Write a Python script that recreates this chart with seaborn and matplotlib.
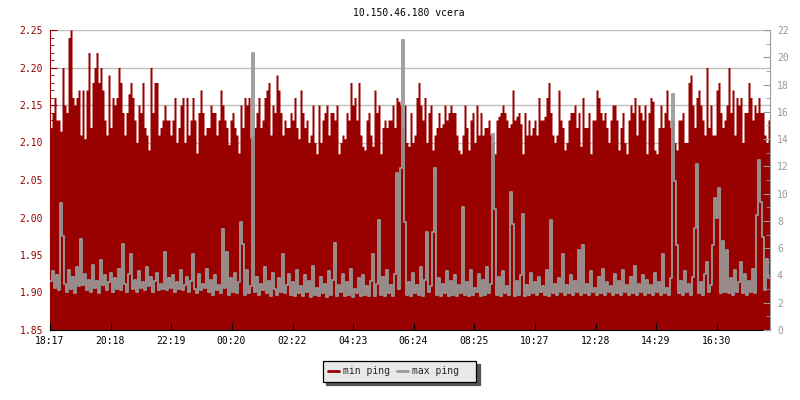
import numpy as np
import matplotlib
matplotlib.use("Agg")
import matplotlib.pyplot as plt
from matplotlib.lines import Line2D
import seaborn as sns

# one sample every 4 minutes, 18:17 -> 18:17 next day
minutes_per_sample = 4
start_time = "18:17"
time_labels = ["18:17", "20:18", "22:19", "00:20", "02:22", "04:23",
               "06:24", "08:25", "10:27", "12:28", "14:29", "16:30"]

# min ping (left axis)
min_ping = [
    2.12, 2.14, 2.16, 2.13, 2.13, 2.115, 2.20, 2.15, 2.14, 2.24,
    2.25, 2.16, 2.15, 2.16, 2.17, 2.11, 2.17, 2.105, 2.17, 2.22,
    2.12, 2.18, 2.20, 2.22, 2.18, 2.20, 2.17, 2.13, 2.11, 2.19,
    2.12, 2.16, 2.15, 2.16, 2.20, 2.18, 2.14, 2.11, 2.14, 2.165,
    2.18, 2.16, 2.13, 2.10, 2.15, 2.14, 2.18, 2.12, 2.11, 2.09,
    2.20, 2.14, 2.18, 2.18, 2.11, 2.12, 2.13, 2.15, 2.13, 2.13,
    2.11, 2.13, 2.16, 2.10, 2.12, 2.15, 2.16, 2.10, 2.16, 2.11,
    2.13, 2.16, 2.13, 2.086, 2.14, 2.17, 2.14, 2.11, 2.12, 2.12,
    2.15, 2.14, 2.14, 2.11, 2.13, 2.17, 2.15, 2.13, 2.12, 2.097,
    2.13, 2.14, 2.12, 2.11, 2.086, 2.15, 2.12, 2.16, 2.15, 2.16,
    2.106, 2.11, 2.12, 2.14, 2.16, 2.12, 2.13, 2.16, 2.17, 2.18,
    2.11, 2.15, 2.14, 2.19, 2.17, 2.14, 2.11, 2.13, 2.12, 2.12,
    2.14, 2.13, 2.16, 2.12, 2.105, 2.17, 2.14, 2.12, 2.13, 2.10,
    2.11, 2.15, 2.10, 2.085, 2.15, 2.10, 2.13, 2.14, 2.15, 2.11,
    2.14, 2.14, 2.13, 2.15, 2.085, 2.10, 2.11, 2.105, 2.14, 2.13,
    2.18, 2.15, 2.16, 2.13, 2.18, 2.11, 2.095, 2.09, 2.13, 2.14,
    2.11, 2.095, 2.17, 2.14, 2.15, 2.085, 2.12, 2.13, 2.12, 2.13,
    2.13, 2.15, 2.12, 2.16, 2.155, 2.15, 2.12, 2.15, 2.10, 2.095,
    2.14, 2.10, 2.11, 2.16, 2.18, 2.15, 2.13, 2.16, 2.10, 2.14,
    2.15, 2.09, 2.11, 2.12, 2.14, 2.12, 2.125, 2.15, 2.13, 2.14,
    2.15, 2.14, 2.14, 2.11, 2.09, 2.085, 2.11, 2.15, 2.12, 2.09,
    2.13, 2.14, 2.10, 2.15, 2.11, 2.14, 2.11, 2.12, 2.12, 2.13,
    2.11, 2.10, 2.085, 2.13, 2.135, 2.14, 2.15, 2.14, 2.13, 2.12,
    2.125, 2.17, 2.13, 2.135, 2.14, 2.125, 2.085, 2.14, 2.11, 2.13,
    2.11, 2.12, 2.13, 2.11, 2.16, 2.13, 2.13, 2.135, 2.16, 2.18,
    2.14, 2.11, 2.10, 2.11, 2.17, 2.13, 2.12, 2.09, 2.10, 2.13,
    2.14, 2.14, 2.15, 2.12, 2.14, 2.095, 2.16, 2.12, 2.12, 2.14,
    2.085, 2.13, 2.13, 2.17, 2.16, 2.14, 2.13, 2.14, 2.12, 2.10,
    2.13, 2.15, 2.15, 2.13, 2.09, 2.12, 2.14, 2.10, 2.085, 2.13,
    2.15, 2.14, 2.16, 2.11, 2.15, 2.14, 2.13, 2.15, 2.085, 2.14,
    2.16, 2.155, 2.09, 2.085, 2.12, 2.15, 2.12, 2.14, 2.17, 2.13,
    2.12, 2.13, 2.10, 2.09, 2.13, 2.13, 2.14, 2.10, 2.10, 2.18,
    2.19, 2.15, 2.12, 2.16, 2.17, 2.15, 2.13, 2.11, 2.20, 2.12,
    2.15, 2.11, 2.11, 2.17, 2.18, 2.14, 2.12, 2.13, 2.15, 2.20,
    2.14, 2.17, 2.11, 2.16, 2.15, 2.16, 2.10, 2.14, 2.14, 2.18,
    2.16, 2.13, 2.15, 2.14, 2.16, 2.14, 2.14, 2.11, 2.10, 2.13,
]

# max ping (right axis)
max_ping = [
    3.6, 4.3, 3.1, 4.0, 2.9, 9.3, 6.9, 3.4, 2.8, 4.4, 3.0, 3.9, 2.7, 4.6, 3.2, 6.7, 3.3, 4.1, 2.9, 3.7,
    2.8, 4.8, 3.1, 3.6, 2.7, 5.1, 3.3, 4.0, 2.9, 3.5, 4.2, 2.8, 3.8, 3.0, 4.5, 2.9, 6.3, 3.4, 2.8, 4.1,
    5.6, 3.0, 3.7, 2.8, 4.3, 3.1, 3.5, 2.9, 4.6, 3.2, 3.9, 2.8, 3.6, 4.2, 2.9, 3.4, 3.0, 5.7, 2.9, 3.8,
    3.1, 4.0, 2.8, 3.5, 3.0, 4.4, 2.9, 3.3, 3.9, 2.8, 3.6, 5.6, 3.0, 2.7, 4.1, 2.9, 3.4, 3.1, 4.5, 2.8,
    3.7, 2.6, 4.0, 2.9, 3.3, 2.7, 7.4, 3.1, 5.7, 2.6, 3.8, 2.8, 4.2, 2.7, 3.5, 7.9, 6.3, 2.6, 4.4, 2.7,
    3.2, 20.3, 2.8, 3.9, 2.6, 3.4, 2.9, 4.6, 2.7, 3.6, 2.5, 4.2, 3.0, 2.6, 3.8, 2.8, 5.6, 2.7, 3.3, 4.1,
    2.6, 3.5, 2.5, 4.4, 2.7, 3.2, 2.5, 4.0, 2.8, 3.6, 2.4, 4.7, 2.6, 3.1, 2.5, 3.9, 2.7, 3.4, 2.4, 4.3,
    2.6, 3.7, 6.4, 2.5, 3.3, 2.8, 4.1, 2.5, 3.5, 2.6, 4.5, 2.4, 3.0, 2.7, 3.8, 2.5, 4.0, 2.6, 3.2, 2.5,
    3.6, 5.6, 2.5, 3.4, 8.1, 2.6, 3.9, 2.5, 4.4, 2.7, 3.3, 2.5, 4.1, 11.5, 3.0, 11.9, 21.3, 7.9, 2.6, 3.5,
    2.5, 4.2, 2.7, 3.3, 2.6, 4.6, 2.5, 3.7, 7.2, 2.8, 3.2, 7.2, 11.9, 2.6, 3.8, 2.5, 3.4, 2.7, 4.3, 2.5,
    3.6, 2.6, 4.0, 2.5, 3.3, 2.7, 9.0, 2.6, 3.5, 2.5, 4.4, 2.6, 3.1, 2.8, 4.1, 2.5, 3.7, 2.6, 4.6, 2.7,
    3.4, 14.4, 8.9, 2.6, 3.9, 2.5, 4.3, 2.7, 3.2, 2.6, 10.1, 7.8, 2.5, 3.6, 2.6, 4.0, 8.5, 2.5, 3.3, 2.6,
    4.2, 2.7, 3.5, 2.6, 3.9, 2.8, 3.2, 2.6, 4.4, 2.5, 8.1, 2.7, 3.4, 2.6, 3.8, 2.8, 5.6, 2.6, 3.3, 2.7,
    4.0, 2.6, 3.6, 2.8, 5.9, 2.6, 6.2, 2.7, 3.4, 2.6, 4.3, 2.8, 3.1, 2.6, 3.9, 2.7, 4.5, 2.6, 3.5, 2.8,
    3.2, 2.6, 4.1, 2.7, 3.6, 2.6, 4.4, 2.8, 3.3, 2.6, 3.9, 2.7, 4.7, 2.6, 3.4, 2.8, 4.0, 2.6, 3.7, 2.7,
    3.3, 2.6, 4.2, 2.8, 3.5, 2.6, 5.6, 2.7, 3.1, 2.6, 3.8, 17.3, 10.9, 6.2, 2.7, 3.6, 2.6, 4.3, 2.8, 3.4,
    2.6, 3.9, 7.5, 12.2, 2.7, 3.5, 2.6, 4.1, 5.0, 2.8, 3.3, 6.2, 9.7, 8.2, 10.4, 2.7, 6.5, 2.8, 5.9, 2.7,
    3.8, 2.6, 4.4, 2.8, 3.5, 5.0, 2.7, 4.1, 2.6, 3.6, 2.8, 4.5, 2.7, 8.4, 12.5, 9.4, 6.8, 2.9, 5.2, 3.8,
]

RED = "#990000"
GRAY = "#999999"

sns.set_style("white")
plt.rcParams["font.family"] = ["DejaVu Sans Mono"]

n = len(min_ping)
x = np.arange(n + 1)
red = np.append(min_ping, min_ping[-1])
gray = np.append(max_ping, max_ping[-1])


def to_offset(label):
    h, m = map(int, label.split(":"))
    h0, m0 = map(int, start_time.split(":"))
    return ((h * 60 + m) - (h0 * 60 + m0)) % 1440 / minutes_per_sample


fig = plt.figure(figsize=(8, 4), dpi=100)
ax = fig.add_axes([50 / 800, 70 / 400, 720 / 800, 300 / 400])

ax.fill_between(x, 1.85, red, step="post", color=RED, lw=0, zorder=2)
ax.set_xlim(0, n)
ax.set_ylim(1.85, 2.25)
ax.set_yticks(np.arange(1.85, 2.2501, 0.05))
ax.set_yticks(np.arange(1.85, 2.2501, 0.01), minor=True)
ax.yaxis.set_major_formatter("{x:.2f}")
ax.grid(axis="y", which="major", color="#c0c0c0", lw=1)
ax.set_axisbelow(True)
ax.set_xticks([to_offset(t) for t in time_labels])
ax.set_xticklabels(time_labels)
ax.tick_params(axis="x", bottom=False, labelbottom=False)
ax.tick_params(axis="y", which="both", direction="in", colors=RED, labelsize=7, pad=5)
ax.tick_params(axis="y", which="major", length=5)
ax.tick_params(axis="y", which="minor", length=3)
ax.spines["left"].set_color(RED)
for s in ["top", "right"]:
    ax.spines[s].set_visible(False)
ax.spines["bottom"].set_color("black")

ax2 = ax.twinx()
sns.lineplot(x=x, y=gray, ax=ax2, color=GRAY, linewidth=1.3,
             drawstyle="steps-post", estimator=None)
ax2.set_ylim(0, 22)
ax2.set_yticks(np.arange(0, 23, 2))
ax2.set_yticks(np.arange(0, 23, 1), minor=True)
ax2.tick_params(axis="y", which="both", direction="in", colors=GRAY, labelsize=7, pad=5)
ax2.tick_params(axis="y", which="major", length=5)
ax2.tick_params(axis="y", which="minor", length=3)
ax2.xaxis.set_visible(True)
ax2.tick_params(axis="x", direction="in", length=5, color="black",
                labelcolor="black", labelsize=7, pad=4, top=False, bottom=True,
                labelbottom=True)
ax2.set_xlabel("")
ax2.set_ylabel("")
ax2.spines["right"].set_color(GRAY)
for s in ["top", "left", "bottom"]:
    ax2.spines[s].set_visible(False)

fig.text(409 / 800, 1 - 13.5 / 400, "10.150.46.180 vcera", ha="center", va="center",
         fontsize=7, color="black")

handles = [Line2D([], [], color=RED, lw=2), Line2D([], [], color=GRAY, lw=2)]
leg = fig.legend(handles, ["min ping", "max ping  "], loc="center",
                 bbox_to_anchor=(399.5 / 800, 1 - 371.5 / 400), ncol=2,
                 frameon=True, fancybox=False, edgecolor="black",
                 facecolor="#e8e8e8", framealpha=1,
                 shadow={"color": "#555555", "alpha": 1, "ox": 2.4, "oy": -2.4},
                 fontsize=7, handlelength=1.13, handletextpad=0.41,
                 columnspacing=0.72, borderpad=0.55, borderaxespad=0)
leg.get_frame().set_linewidth(0.9)

fig.savefig("out.png", dpi=100)
